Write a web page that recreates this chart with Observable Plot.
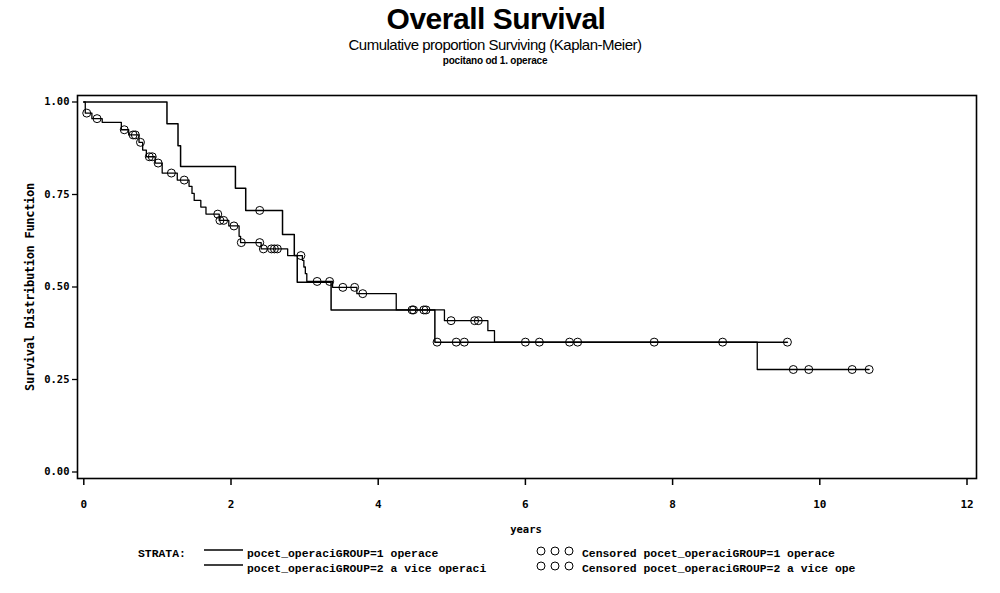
<!DOCTYPE html>
<html><head><meta charset="utf-8">
<script src="https://cdn.jsdelivr.net/npm/d3@7"></script>
<script src="https://cdn.jsdelivr.net/npm/@observablehq/plot@0.6"></script>
<style>
body{margin:0;background:#fff;}
#wrap{position:relative;width:1000px;height:593px;overflow:hidden;background:#fff;font-family:"Liberation Sans",Arial,sans-serif;color:#000;}
.abs{position:absolute;white-space:nowrap;line-height:1;z-index:2;}
.mono{font-family:"Liberation Mono","DejaVu Sans Mono",monospace;font-weight:bold;font-size:11.4px;}
#chart{position:absolute;left:0;top:84px;z-index:1;}
</style></head><body><div id="wrap">
<div id="chart"></div>
<div class="abs" style="left:496px;top:4px;transform:translateX(-50%);font-size:30px;font-weight:bold;letter-spacing:-0.5px;">Overall Survival</div>
<div class="abs" style="left:495px;top:37px;transform:translateX(-50%);font-size:15px;letter-spacing:-0.5px;">Cumulative proportion Surviving (Kaplan-Meier)</div>
<div class="abs" style="left:495px;top:56px;transform:translateX(-50%);font-size:10px;font-weight:bold;letter-spacing:-0.2px;">pocitano od 1. operace</div>
<div class="abs" style="left:30px;top:287px;transform:translate(-50%,-50%) rotate(-90deg);font-family:'DejaVu Sans Mono',monospace;font-size:12px;font-weight:bold;letter-spacing:-0.3px;">Survival Distribution Function</div>
<div class="abs" style="left:526px;top:524px;transform:translateX(-50%);font-family:'DejaVu Sans Mono',monospace;font-weight:bold;font-size:10.5px;">years</div>
<div id="legend"></div>
</div>
<script>
// Group 1: "1 operace" (larger group, many censored observations)
const timesG1 = [0, 0.02, 0.11, 0.25, 0.51, 0.61, 0.75, 0.80, 0.85, 0.97, 1.065, 1.27, 1.43, 1.47, 1.50, 1.59, 1.66, 1.84, 1.97, 2.11, 2.13, 2.41, 2.77, 2.97, 2.99, 3.01, 3.03, 3.38, 3.71, 4.245, 4.90, 5.49, 5.58, 9.15, 10.67];
const survG1  = [1, 0.970, 0.955, 0.945, 0.925, 0.911, 0.891, 0.870, 0.852, 0.835, 0.808, 0.789, 0.772, 0.753, 0.734, 0.716, 0.697, 0.680, 0.665, 0.637, 0.620, 0.603, 0.585, 0.572, 0.554, 0.536, 0.515, 0.499, 0.482, 0.438, 0.409, 0.382, 0.351, 0.277, 0.277];
const censTimesG1 = [0.04, 0.18, 0.55, 0.67, 0.70, 0.77, 0.89, 0.93, 1.01, 1.19, 1.365, 1.82, 1.85, 1.90, 2.04, 2.14, 2.39, 2.44, 2.55, 2.59, 2.63, 2.95, 3.17, 3.34, 3.52, 3.68, 3.79, 4.46, 4.48, 4.62, 4.65, 4.99, 5.31, 5.36, 6.00, 6.19, 6.60, 6.71, 7.75, 8.68, 9.64, 9.85, 10.44, 10.67];
const censSurvG1  = [0.970, 0.955, 0.925, 0.911, 0.911, 0.891, 0.852, 0.852, 0.835, 0.808, 0.789, 0.697, 0.680, 0.680, 0.665, 0.620, 0.620, 0.603, 0.603, 0.603, 0.603, 0.585, 0.515, 0.515, 0.499, 0.499, 0.482, 0.438, 0.438, 0.438, 0.438, 0.409, 0.409, 0.409, 0.351, 0.351, 0.351, 0.351, 0.351, 0.351, 0.277, 0.277, 0.277, 0.277];

// Group 2: "2 a vice operaci"
const timesG2 = [0, 1.13, 1.28, 1.315, 2.06, 2.20, 2.70, 2.86, 2.90, 3.36, 4.77, 9.56];
const survG2  = [1, 0.941, 0.882, 0.826, 0.767, 0.707, 0.642, 0.585, 0.513, 0.438, 0.351, 0.351];
const censTimesG2 = [2.39, 4.80, 5.06, 5.17, 9.56];
const censSurvG2  = [0.707, 0.351, 0.351, 0.351, 0.351];

const xTicks = [0, 2, 4, 6, 8, 10, 12];
const yTicks = [0, 0.25, 0.5, 0.75, 1];
const legendLabels = ["pocet_operaciGROUP=1 operace", "pocet_operaciGROUP=2 a vice operaci"];
const legendCensLabels = ["Censored pocet_operaciGROUP=1 operace", "Censored pocet_operaciGROUP=2 a vice ope"];

const line1 = timesG1.map((t, i) => ({t, s: survG1[i]}));
const line2 = timesG2.map((t, i) => ({t, s: survG2[i]}));
const cens1 = censTimesG1.map((t, i) => ({t, s: censSurvG1[i]}));
const cens2 = censTimesG2.map((t, i) => ({t, s: censSurvG2[i]}));

const chart = Plot.plot({
  width: 1000, height: 460,
  marginLeft: 77, marginRight: 24, marginTop: 11, marginBottom: 66,
  x: {domain: [0, 12], range: [83.3, 966.5]},
  y: {domain: [0, 1], range: [387.5, 17.5]},
  style: {background: "white", overflow: "visible"},
  marks: [
    Plot.axisX({ticks: xTicks, tickFormat: d => String(d), tickSize: 7, tickPadding: 15, fontSize: 11, fontFamily: "DejaVu Sans Mono", fontWeight: "bold", strokeWidth: 1.5, label: null}),
    Plot.axisY({ticks: yTicks, tickFormat: d3.format(".2f"), tickSize: 5, tickPadding: 3, fontSize: 10.5, fontFamily: "DejaVu Sans Mono", fontWeight: "bold", strokeWidth: 1.3, label: null}),
    Plot.line(line1, {x: "t", y: "s", curve: "step-after", stroke: "black", strokeWidth: 1.3}),
    Plot.line(line2, {x: "t", y: "s", curve: "step-after", stroke: "black", strokeWidth: 1.5}),
    Plot.dot(cens1, {x: "t", y: "s", r: 4, stroke: "black", fill: "none", strokeWidth: 1}),
    Plot.dot(cens2, {x: "t", y: "s", r: 4, stroke: "black", fill: "none", strokeWidth: 1}),
    Plot.frame({stroke: "black", strokeWidth: 1.6})
  ]
});
document.getElementById("chart").appendChild(chart);

// Legend (SAS style, below the plot)
const leg = document.getElementById("legend");
const rowsY = [554, 569];
let html = `<div class="abs mono" style="left:138px;top:${rowsY[0]-5}px;">STRATA:</div>`;
legendLabels.forEach((lab, i) => {
  html += `<svg class="abs" style="left:204px;top:${rowsY[i]-6}px" width="40" height="4"><line x1="0" x2="39" y1="2" y2="2" stroke="black" stroke-width="${i===0?1.3:1.5}"/></svg>`;
  html += `<div class="abs mono" style="left:247px;top:${rowsY[i]-5}px;">${lab}</div>`;
  html += `<svg class="abs" style="left:535px;top:${rowsY[i]-9}px" width="44" height="12">` +
    [6, 20, 34].map(cx => `<circle cx="${cx}" cy="6" r="4" fill="none" stroke="black" stroke-width="1"/>`).join("") + `</svg>`;
  html += `<div class="abs mono" style="left:582px;top:${rowsY[i]-5}px;">${legendCensLabels[i]}</div>`;
});
leg.innerHTML = html;
</script>
</body></html>
